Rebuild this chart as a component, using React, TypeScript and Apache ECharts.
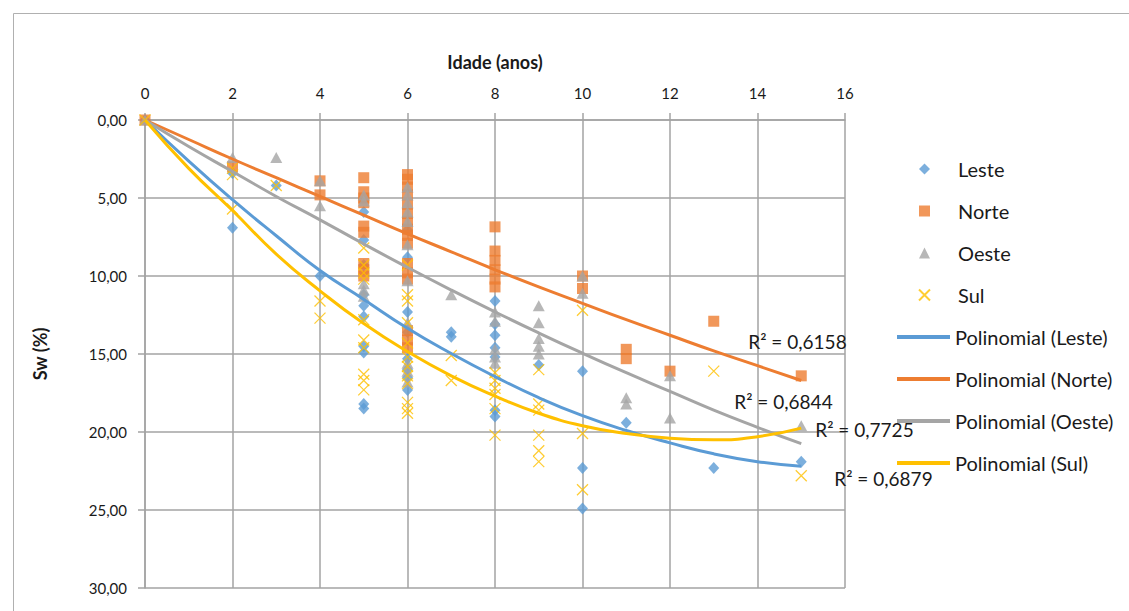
import React, { useEffect, useRef } from "react";
import * as echarts from "echarts";

// ---- Data ----
const seriesNames = ["Leste", "Norte", "Oeste", "Sul"];
const trendNames = ["Polinomial (Leste)", "Polinomial (Norte)", "Polinomial (Oeste)", "Polinomial (Sul)"];

const lesteData: [number, number][] = [
  [0, 0], [2, 3.4], [2, 6.9], [3, 4.2], [4, 10.0],
  [5, 5.9], [5, 7.7], [5, 9.3], [5, 11.2], [5, 11.9], [5, 12.6], [5, 14.5], [5, 14.9], [5, 18.2], [5, 18.5],
  [6, 7.05], [6, 8.8], [6, 12.3], [6, 13.6], [6, 15.3], [6, 16.0], [6, 16.5], [6, 17.3],
  [7, 13.6], [7, 13.9],
  [8, 11.6], [8, 13.1], [8, 13.8], [8, 14.6], [8, 15.2], [8, 18.6], [8, 19.0],
  [9, 15.7], [10, 16.1], [10, 22.3], [10, 24.9], [11, 19.4], [13, 22.3], [15, 21.9],
];

const norteData: [number, number][] = [
  [0, 0], [2, 3.0], [4, 3.9], [4, 4.8],
  [5, 3.7], [5, 4.6], [5, 5.0], [5, 5.3], [5, 6.8], [5, 7.2], [5, 9.2], [5, 9.6], [5, 10.0],
  [6, 3.5], [6, 3.8], [6, 4.3], [6, 4.8], [6, 5.4], [6, 6.0], [6, 6.5], [6, 7.0], [6, 7.4], [6, 7.9],
  [6, 9.2], [6, 9.8], [6, 10.2], [6, 13.5], [6, 14.1], [6, 14.6],
  [8, 6.85], [8, 8.4], [8, 9.0], [8, 9.6], [8, 10.2], [8, 10.7],
  [10, 10.0], [10, 10.8], [11, 14.7], [11, 15.3], [12, 16.1], [13, 12.9], [15, 16.4],
];

const oesteData: [number, number][] = [
  [0, 0], [2, 2.4], [3, 2.4], [4, 3.9], [4, 5.5],
  [5, 4.8], [5, 5.2], [5, 10.5], [5, 10.9], [5, 11.3],
  [6, 4.3], [6, 4.8], [6, 5.3], [6, 5.9], [6, 6.5], [6, 8.0], [6, 10.3], [6, 13.0], [6, 15.6], [6, 16.1], [6, 16.8],
  [7, 11.2],
  [8, 12.3], [8, 12.9], [8, 14.7], [8, 15.2], [8, 15.6],
  [9, 11.9], [9, 13.0], [9, 14.0], [9, 14.5], [9, 15.0],
  [10, 10.0], [10, 11.1], [11, 17.8], [11, 18.2], [12, 16.4], [12, 19.1], [15, 19.6],
];

const sulData: [number, number][] = [
  [0, 0], [2, 3.1], [2, 3.5], [2, 5.7], [3, 4.2], [4, 11.6], [4, 12.7],
  [5, 8.2], [5, 9.3], [5, 9.8], [5, 10.2], [5, 12.8], [5, 14.1], [5, 14.6], [5, 16.3], [5, 16.7], [5, 17.3],
  [6, 9.3], [6, 11.2], [6, 11.6], [6, 13.0], [6, 14.3], [6, 15.2], [6, 15.8], [6, 16.4], [6, 16.9], [6, 18.1], [6, 18.5], [6, 18.8],
  [7, 15.1], [7, 16.7],
  [8, 16.2], [8, 16.7], [8, 17.2], [8, 17.6], [8, 18.5], [8, 20.2],
  [9, 16.0], [9, 18.2], [9, 18.6], [9, 20.2], [9, 21.2], [9, 21.9],
  [10, 12.2], [10, 20.1], [10, 23.7], [13, 16.1], [15, 22.8],
];

// Trend lines at x = 0..15
const trendX = [0, 1, 2, 3, 4, 5, 6, 7, 8, 9, 10, 11, 12, 13, 14, 15];
const lesteTrend = [0, 2.64, 5.11, 7.42, 9.65, 11.5, 13.35, 14.97, 16.45, 17.8, 18.95, 19.9, 20.7, 21.4, 21.9, 22.2];
const norteTrend = [0, 1.25, 2.5, 3.7, 4.9, 6.1, 7.3, 8.45, 9.6, 10.7, 11.75, 12.8, 13.8, 14.8, 15.75, 16.7];
const oesteTrend = [0, 1.7, 3.3, 4.9, 6.4, 7.95, 9.45, 10.9, 12.3, 13.65, 14.95, 16.2, 17.4, 18.6, 19.7, 20.75];
const sulTrend = [0, 3.1, 5.8, 8.6, 10.95, 13.05, 14.85, 16.4, 17.7, 18.8, 19.6, 20.1, 20.4, 20.5, 20.3, 19.75];

const r2Texts = ["R² = 0,6879", "R² = 0,6158", "R² = 0,6844", "R² = 0,7725"];

const colors = ["#5B9BD5", "#ED7D31", "#A5A5A5", "#FFC000"];
const FONT = "Lato, 'Noto Sans', sans-serif";

export default function App() {
  const ref = useRef<HTMLDivElement>(null);

  useEffect(() => {
    document.body.style.margin = "0";
    document.body.style.overflow = "hidden";
    const chart = echarts.init(ref.current!, null, { renderer: "svg" });

    const scatterData = [lesteData, norteData, oesteData, sulData];
    const trends = [lesteTrend, norteTrend, oesteTrend, sulTrend];
    const symbols = ["diamond", "rect", "triangle", "path://M0,0L10,10M10,0L0,10"];
    const sizes = [[11, 12], 11, [12, 11], 11];
    const r2Offsets = [[33, 12], [-53, -39], [-67, -42], [14, 1]];

    const scatterSeries = scatterData.map((d, i) => ({
      name: seriesNames[i],
      type: "scatter",
      data: d,
      symbol: symbols[i],
      symbolSize: sizes[i],
      itemStyle:
        i === 3
          ? { color: colors[i], borderColor: colors[i], borderWidth: 1.3 }
          : { color: colors[i] },
      z: 2,
    }));

    const trendSeries = trends.map((t, i) => ({
      name: trendNames[i],
      type: "line",
      data: trendX.map((x, k) => [x, t[k]]),
      smooth: true,
      symbol: "none",
      lineStyle: { color: colors[i], width: 3 },
      itemStyle: { color: colors[i] },
      z: 3,
      markPoint: {
        symbol: "circle",
        symbolSize: 0,
        silent: true,
        data: [{ coord: [trendX[trendX.length - 1], t[t.length - 1]], value: r2Texts[i] }],
        label: {
          show: true,
          position: "right",
          distance: 0,
          offset: r2Offsets[i],
          formatter: r2Texts[i],
          color: "#1a1a1a",
          fontFamily: FONT,
          fontSize: 19,
        },
      },
    }));

    const gridColor = "#a3a3a3";
    const legendText = { fontSize: 20, color: "#1a1a1a", fontFamily: FONT, lineHeight: 20 };

    chart.setOption({
      animation: false,
      backgroundColor: "#ffffff",
      textStyle: { fontFamily: FONT },
      graphic: [
        {
          type: "rect",
          shape: { x: 13.5, y: 13.5, width: 1400, height: 900 },
          style: { fill: "none", stroke: "#b0b0b0", lineWidth: 1 },
          silent: true,
        },
      ],
      grid: { left: 145, right: 284, top: 120, bottom: 23, containLabel: false },
      xAxis: {
        type: "value",
        position: "top",
        min: 0,
        max: 16,
        interval: 2,
        name: "Idade (anos)",
        nameLocation: "middle",
        nameGap: 49,
        nameTextStyle: { fontWeight: "bold", fontSize: 18, color: "#1a1a1a", fontFamily: FONT },
        axisLine: { show: true, lineStyle: { color: gridColor, width: 1.5 } },
        axisTick: { show: true, inside: false, length: 7, lineStyle: { color: gridColor, width: 1.5 } },
        axisLabel: { color: "#1a1a1a", fontSize: 15, margin: 20, fontFamily: FONT },
        splitLine: { show: true, lineStyle: { color: gridColor, width: 1.5 } },
      },
      yAxis: {
        type: "value",
        inverse: true,
        min: 0,
        max: 30,
        interval: 5,
        name: "Sw (%)",
        nameLocation: "middle",
        nameGap: 96,
        nameRotate: 90,
        nameTextStyle: { fontWeight: "bold", fontSize: 18, color: "#1a1a1a", fontFamily: FONT },
        axisLine: { show: true, lineStyle: { color: gridColor, width: 1.5 } },
        axisTick: { show: true, inside: false, length: 7, lineStyle: { color: gridColor, width: 1.5 } },
        axisLabel: {
          color: "#1a1a1a",
          fontSize: 15,
          margin: 18,
          fontFamily: FONT,
          formatter: (v: number) => v.toFixed(2).replace(".", ","),
        },
        splitLine: { show: true, lineStyle: { color: gridColor, width: 1.5 } },
      },
      legend: [
        {
          orient: "vertical",
          left: 918,
          top: 159,
          padding: 0,
          itemWidth: 11,
          itemHeight: 11,
          itemGap: 22,
          data: seriesNames,
          textStyle: { ...legendText, padding: [0, 0, 0, 23] },
          selectedMode: false,
        },
        {
          orient: "vertical",
          left: 897,
          top: 327,
          padding: 0,
          itemWidth: 53,
          itemHeight: 4,
          itemGap: 22,
          data: trendNames.map((n) => ({ name: n, icon: "rect" })),
          textStyle: legendText,
          selectedMode: false,
        },
      ],
      series: [...scatterSeries, ...trendSeries],
    });

    return () => chart.dispose();
  }, []);

  return <div ref={ref} style={{ width: 1129, height: 611 }} />;
}
